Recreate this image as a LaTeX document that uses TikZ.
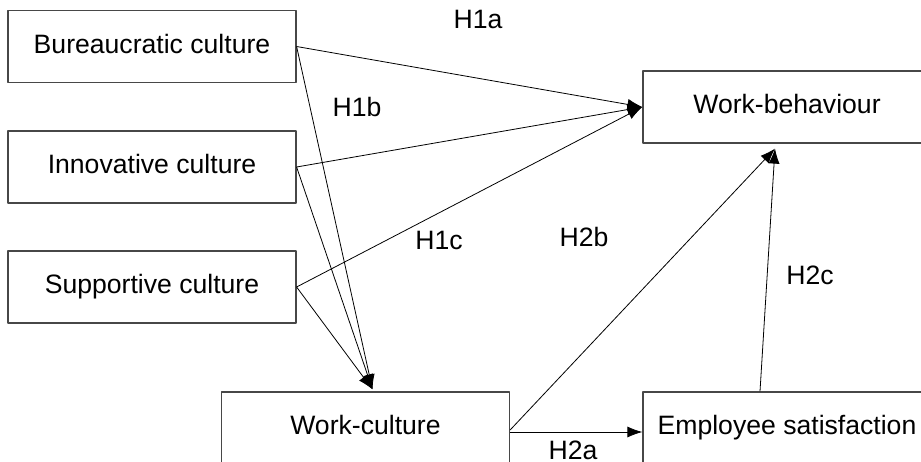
\documentclass[tikz,border=0pt]{standalone}
\usepackage{fontspec}
\setmainfont{Liberation Sans}
\usetikzlibrary{arrows.meta}
\begin{document}
\begin{tikzpicture}[x=1pt, y=-1pt, font=\fontsize{26.6}{32}\selectfont, line join=round, >={Latex[length=15pt,width=11pt]},
box/.style={draw=black!72, line width=1.2pt, minimum width=288pt, minimum height=72pt, inner sep=0pt, text height=20pt, text depth=6.7pt},
conn/.style={->, line width=0.8pt}]
\useasboundingbox (0,0) rectangle (921,461);
%Các khối
\node[box] (bur) at (152,46.5) {Bureaucratic culture};
\node[box] (inn) at (152,167) {Innovative culture};
\node[box] (sup) at (152,287) {Supportive culture};
\node[box] (wb) at (787,107) {Work-behaviour};
\node[box] (wc) at (365.5,428) {Work-culture};
\node[box] (es) at (787,428) {Employee satisfaction};
\coordinate (wctop) at ([xshift=7pt,yshift=2pt]wc.north);
\coordinate (wbbot) at ([xshift=-12pt,yshift=-5pt]wb.south);
%Mũi tên
\foreach \s in {bur,inn,sup}{
\draw[conn] (\s.east)--(wb.west);
\draw[conn] (\s.east)--(wctop);
}
\draw[conn] ([yshift=-2pt]wc.east)--(wbbot);
\draw[conn] ([yshift=-4pt]wc.east)--([yshift=-4pt]es.west);
\draw[conn] ([xshift=-27pt]es.north)--(wbbot);
%Nhãn
\node (h1a) at (478,19) {H1a};
\node (h1b) at (357,107) {H1b};
\node (h1c) at (439,240) {H1c};
\node (h2b) at (584,237) {H2b};
\node (h2c) at (810,275) {H2c};
\node (h2a) at (573,450) {H2a};
\end{tikzpicture}
\end{document}
